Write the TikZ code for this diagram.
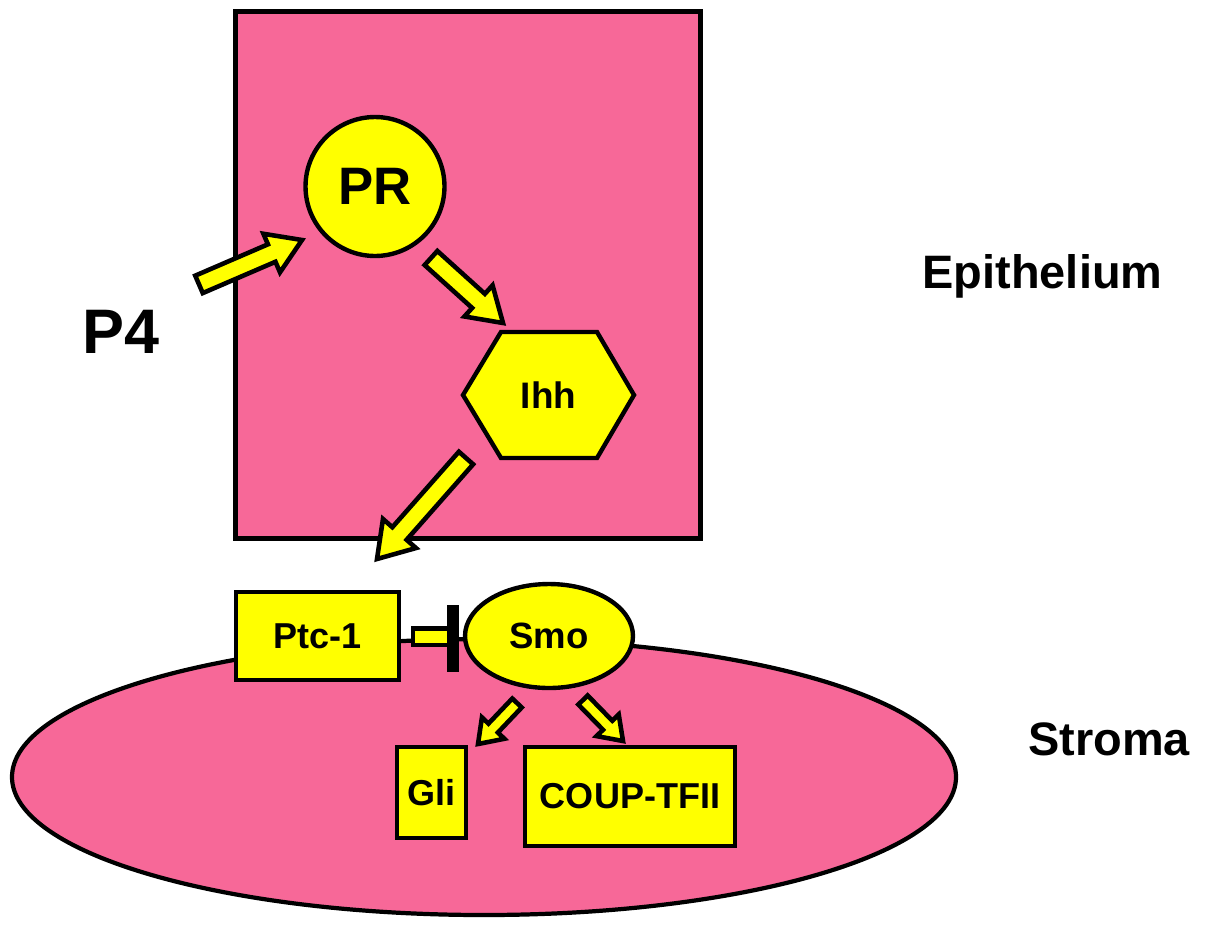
\documentclass[tikz,border=0pt]{standalone}
\usepackage{fontspec}
\setmainfont{Liberation Sans}
\usetikzlibrary{calc, shapes.geometric}

\definecolor{tissuepink}{RGB}{247,104,152}
\definecolor{protyellow}{RGB}{255,255,0}

% block arrow: #1 tail, #2 tip, #3 half shaft, #4 half head, #5 head length
\newcommand{\blockarrow}[5]{%
  \coordinate (ba-h) at ($(#2)!#5!(#1)$);
  \draw[arrowbody] ($(#1)!#3!90:(#2)$) -- ($(ba-h)!#3!90:(#2)$) -- ($(ba-h)!#4!90:(#2)$)
    -- (#2) -- ($(ba-h)!#4!-90:(#2)$) -- ($(ba-h)!#3!-90:(#2)$) -- ($(#1)!#3!-90:(#2)$) -- cycle;
}

\begin{document}
\begin{tikzpicture}[
    x=0.02cm, y=-0.02cm,
    tissue/.style={draw, line width=2.4pt, fill=tissuepink},
    protbox/.style={rectangle, draw, line width=2.5pt, fill=protyellow, inner sep=0pt, font=\bfseries\fontsize{20.5}{24}\selectfont},
    protoval/.style={ellipse, draw, line width=2.5pt, fill=protyellow, inner sep=0pt, font=\bfseries\fontsize{20.8}{24}\selectfont},
    protcircle/.style={circle, draw, line width=2.5pt, fill=protyellow, inner sep=0pt, font=\bfseries\fontsize{30}{34}\selectfont},
    tag/.style={anchor=base, font=\bfseries\fontsize{26.7}{32}\selectfont},
    arrowbody/.style={draw, line width=2.6pt, fill=protyellow, line join=miter}
]
    \useasboundingbox (0,0) rectangle (1209,924);

    % tissues
    \draw[tissue] (484,777) ellipse [x radius=472, y radius=138];
    \draw[tissue, line width=2.8pt] (235.5,11.5) rectangle (700.5,538.5);

    % labels
    \node (epi) [tag] at (1042.5,288) {Epithelium};
    \node (str) [tag] at (1109,755) {Stroma};
    \node (p4) [tag, font=\bfseries\fontsize{35.8}{40}\selectfont] at (121,353) {P4};

    % epithelial signalling
    \node (pr) [protcircle, minimum size=2.78cm] at (375,186.5) {PR};
    \draw[line width=2.5pt, fill=protyellow] (463,395) -- (501,332) -- (597,332) -- (634,395)
        -- (597,458) -- (501,458) -- cycle;
    \node (ihh) [font=\bfseries\fontsize{21}{24}\selectfont] at (548.5,395) {Ihh};

    % stromal signalling
    \node (ptc) [protbox, minimum width=3.26cm, minimum height=1.76cm] at (317.5,636) {Ptc-1};
    \node (smo) [protoval, minimum width=3.36cm, minimum height=2.08cm] at (549,636) {Smo};
    \node (gli) [protbox, minimum width=1.38cm, minimum height=1.82cm] at (431.5,792.5) {Gli};
    \node (coup) [protbox, minimum width=4.2cm, minimum height=1.98cm] at (630,796.5) {COUP-TFII};

    % arrow ends
    \coordinate (p4s) at ($(p4)+(78,-47)$);
    \coordinate (p4e) at ($(pr)+(-73,53.5)$);
    \coordinate (prs) at ($(pr)+(56,71.5)$);
    \coordinate (pre) at ($(ihh)+(-45.5,-72)$);
    \coordinate (ihs) at ($(ihh)+(-82.5,63)$);
    \coordinate (ihe) at ($(ptc)+(59.5,-77)$);
    \coordinate (sgs) at ($(smo)+(-32,67)$);
    \coordinate (sge) at ($(gli)+(46.5,-48.5)$);
    \coordinate (scs) at ($(smo)+(34,64)$);
    \coordinate (sce) at ($(coup)+(-7,-55.5)$);

    \blockarrow{p4s}{p4e}{0.19cm}{0.42cm}{0.66cm}
    \blockarrow{prs}{pre}{0.19cm}{0.42cm}{0.66cm}
    \blockarrow{ihs}{ihe}{0.19cm}{0.44cm}{0.68cm}
    \blockarrow{sgs}{sge}{0.13cm}{0.31cm}{0.44cm}
    \blockarrow{scs}{sce}{0.13cm}{0.31cm}{0.44cm}

    % Ptc-1 blocks Smo
    \draw[line width=2.5pt, fill=protyellow] ($(ptc.east)+(12,-7.5)$) rectangle ($(ptc.east)+(50,9)$);
    \fill ($(ptc.east)+(46,-31)$) rectangle ($(ptc.east)+(58,36)$);
\end{tikzpicture}
\end{document}
